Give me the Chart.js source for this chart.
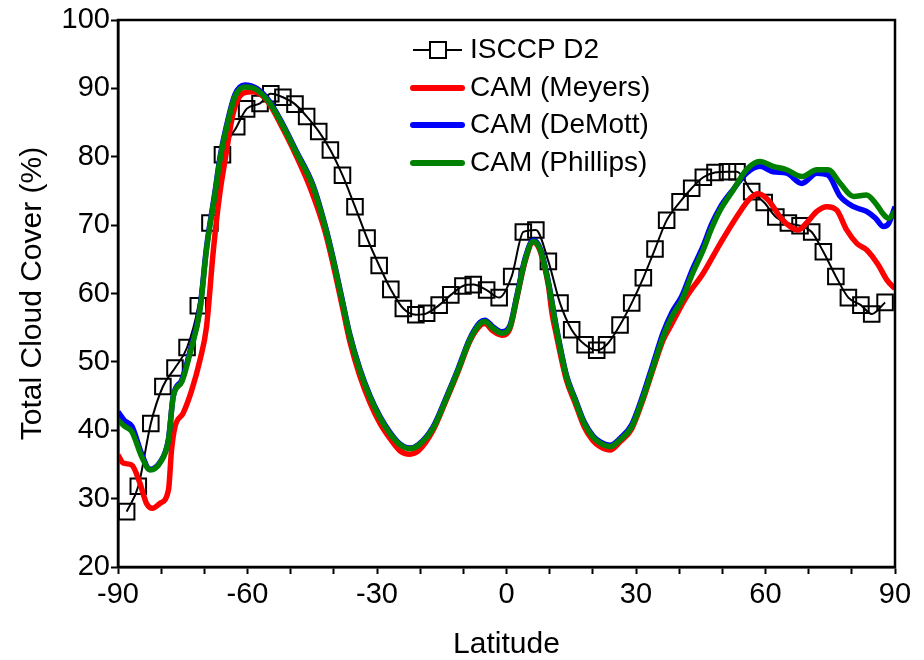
<!DOCTYPE html>
<html>
<head>
<meta charset="utf-8">
<script src="https://cdn.jsdelivr.net/npm/chart.js@4.4.1/dist/chart.umd.min.js"></script>
<style>
  body { margin: 0; background: #fff; }
  #wrap { width: 924px; height: 660px; }
</style>
</head>
<body>
<div id="wrap"><canvas id="myChart" width="924" height="660"></canvas></div>
<script>
// ISCCP D2 observations (square markers)
const isccpLat = [-88.0, -85.3, -82.4, -79.6, -76.8, -74.0, -71.4, -68.7, -65.8, -62.5, -60.2, -57.1, -54.6, -51.8, -49.0, -46.3,
  -43.5, -40.8, -38.0, -35.1, -32.3, -29.5, -26.8, -23.9, -21.0, -18.5, -15.6, -12.9, -10.1, -7.7, -4.6, -1.7,
  1.2, 3.9, 6.8, 9.7, 12.4, 15.1, 18.2, 20.9, 23.2, 26.3, 29.0, 31.7, 34.4, 37.1, 40.2, 42.9,
  45.6, 48.3, 51.2, 53.4, 56.8, 59.7, 62.4, 65.3, 68.0, 70.7, 73.4, 76.3, 79.2, 82.1, 84.6, 87.7];
const isccpCover = [28.1, 31.8, 41.0, 46.4, 49.1, 52.1, 58.2, 70.3, 80.3, 84.4, 87.0, 87.8, 89.2, 88.7, 87.7, 85.9,
  83.7, 81.0, 77.3, 72.7, 68.1, 64.1, 60.6, 57.8, 56.9, 57.1, 58.3, 59.8, 61.1, 61.3, 60.5, 59.4,
  62.5, 69.0, 69.3, 64.7, 58.6, 54.7, 52.5, 51.7, 52.5, 55.4, 58.6, 62.3, 66.5, 70.7, 73.4, 75.4,
  77.0, 77.7, 77.8, 77.8, 74.9, 73.3, 71.2, 70.3, 69.9, 69.0, 66.1, 62.5, 59.4, 58.3, 57.0, 58.7];

// CAM (Meyers)
const meyersLat = [-90, -88.8, -86.8, -84.9, -83.4, -82, -80.3, -78.3, -77.6, -76.8, -74.9, -72.9, -71, -69.5, -67.9, -66.4,
  -65.2, -63.3, -61, -58.7, -55.6, -51.7, -48.6, -45.5, -42, -40, -38, -36.3, -34, -31.6, -29.3, -27,
  -24.7, -22.4, -20.4, -17, -13.9, -11.2, -8.5, -6.1, -5, -3.1, -1.1, 0.8, 2.4, 4.3, 6.2, 7.8,
  9.7, 10.5, 11.6, 13.9, 15.9, 18, 20, 21.7, 24, 26.3, 29, 31.7, 34, 36.3, 37.9, 41.7,
  45.6, 49.5, 53.3, 56.4, 58.3, 60.6, 63.4, 65.7, 67.6, 69.5, 71.9, 74.2, 76.5, 78.8, 81.2, 83.4,
  86.1, 88.1, 90];
const meyersCover = [36.4, 35.2, 34.9, 32.2, 29.3, 28.6, 29.3, 31.3, 37.1, 40.5, 42.5, 45.9, 50.3, 55.1, 66.4, 74.7,
  79.5, 86.4, 89.3, 89.5, 88.3, 84.0, 80.0, 75.5, 69.0, 63.8, 58.0, 53.0, 48.0, 44.0, 41.0, 38.8,
  37.0, 36.5, 37.0, 40.0, 44.5, 48.6, 53.0, 55.3, 55.6, 54.5, 53.9, 54.9, 59.3, 64.7, 67.5, 66.2,
  61.2, 57.3, 53.8, 47.3, 44.0, 40.5, 38.5, 37.6, 37.1, 38.3, 40.2, 44.6, 49.0, 53.2, 55.1, 59.5,
  63.0, 67.3, 71.2, 73.9, 74.6, 73.7, 71.2, 69.8, 69.3, 70.3, 72.0, 72.7, 72.2, 69.3, 67.3, 66.4,
  64.2, 62.0, 60.7];

// CAM (DeMott)
const demottLat = [-90, -88.5, -86.8, -84.5, -82.6, -80.3, -78.3, -77.2, -75.2, -73.3, -71, -69.5, -67.5, -66.4, -64.8, -62.9,
  -60.6, -57.9, -54.8, -51.7, -48.6, -44.8, -42, -40, -38, -36.3, -34, -31.6, -29.3, -27, -24.7, -22.4,
  -20.4, -17, -13.9, -11.2, -8.5, -6.1, -5, -3.1, -1.1, 0.8, 2.4, 4.3, 6.2, 7.8, 9.7, 11.6,
  13.9, 15.9, 18, 20, 21.7, 24, 26.3, 29, 31.7, 34, 36.3, 38.3, 40.6, 43, 45.6, 47.5,
  49.5, 52.5, 55.6, 58.7, 61.8, 64.9, 68.4, 71.9, 74.5, 77.3, 80.4, 83.4, 85.5, 87.3, 88.5, 90];
const demottCover = [42.7, 41.4, 40.6, 36.5, 34.3, 35.3, 38.7, 45.0, 47.4, 51.6, 57.9, 66.7, 75.0, 79.8, 84.7, 89.1,
  90.5, 90.0, 88.0, 84.6, 80.7, 75.8, 69.9, 64.7, 58.9, 54.0, 49.0, 45.0, 42.0, 39.7, 38.0, 37.4,
  37.9, 40.5, 44.9, 49.0, 53.4, 55.8, 56.1, 55.1, 54.4, 55.3, 59.7, 65.1, 67.8, 66.6, 61.7, 54.9,
  48.0, 44.6, 41.2, 39.2, 38.3, 37.8, 38.8, 40.8, 45.3, 49.8, 54.3, 57.2, 59.6, 63.4, 67.0, 70.1,
  72.6, 75.2, 77.6, 78.6, 77.8, 77.6, 76.1, 77.6, 77.3, 74.2, 72.7, 72.0, 71.0, 69.8, 70.2, 72.7];

// CAM (Phillips)
const phillipsLat = demottLat;
const phillipsCover = [41.5, 40.6, 39.8, 36.1, 34.2, 35.2, 38.6, 44.9, 47.1, 51.3, 57.6, 66.4, 74.7, 79.5, 84.4, 88.8,
  90.2, 89.8, 87.8, 84.4, 80.5, 75.6, 69.7, 64.5, 58.7, 53.8, 48.8, 44.8, 41.8, 39.5, 37.9, 37.3,
  37.8, 40.3, 44.7, 48.8, 53.2, 55.6, 55.9, 54.9, 54.2, 55.1, 59.5, 64.9, 67.6, 66.4, 61.5, 54.7,
  47.8, 44.4, 41.0, 39.0, 38.1, 37.6, 38.6, 40.5, 44.9, 49.3, 53.7, 56.6, 59.0, 62.8, 66.4, 69.5,
  72.2, 75.1, 78.1, 79.3, 78.6, 78.1, 77.1, 78.1, 78.1, 76.1, 74.2, 74.4, 73.2, 71.6, 71.0, 72.0];

const xTicks = [-90, -60, -30, 0, 30, 60, 90];

function pts(lat, val) {
  return lat.map((v, i) => ({ x: v, y: val[i] }));
}

const FONT = 'Arial, "Liberation Sans", sans-serif';
Chart.defaults.font.family = FONT;
Chart.defaults.color = '#000';

// legend drawn inside the plot, as in the figure
const legendBox = {
  id: 'legendBox',
  afterDraw(chart) {
    const ctx = chart.ctx;
    const rows = [
      { text: 'ISCCP D2', color: '#000', w: 2, marker: true, y: 50 },
      { text: 'CAM (Meyers)', color: '#ff0000', w: 6, y: 88 },
      { text: 'CAM (DeMott)', color: '#0000ff', w: 6, y: 125 },
      { text: 'CAM (Phillips)', color: '#008000', w: 6, y: 163 }
    ];
    ctx.save();
    rows.forEach(r => {
      ctx.strokeStyle = r.color;
      ctx.lineWidth = r.w;
      ctx.lineCap = r.marker ? 'butt' : 'round';
      ctx.beginPath();
      ctx.moveTo(413, r.y);
      ctx.lineTo(462, r.y);
      ctx.stroke();
      if (r.marker) {
        ctx.fillStyle = '#fff';
        ctx.fillRect(430, r.y - 8, 16, 16);
        ctx.strokeRect(430, r.y - 8, 16, 16);
      }
      ctx.fillStyle = '#000';
      ctx.font = '28px ' + FONT;
      ctx.textBaseline = 'middle';
      ctx.fillText(r.text, 470, r.y);
    });
    ctx.restore();
  }
};

// box around the plot area
const frame = {
  id: 'frame',
  afterDatasetsDraw(chart) {
    const a = chart.chartArea;
    const ctx = chart.ctx;
    ctx.save();
    ctx.strokeStyle = '#000';
    ctx.lineWidth = 2.5;
    ctx.strokeRect(a.left, a.top, a.right - a.left, a.bottom - a.top);
    ctx.restore();
  }
};

const ctx = document.getElementById('myChart');

new Chart(ctx, {
  type: 'line',
  data: {
    datasets: [
      {
        label: 'ISCCP D2',
        data: pts(isccpLat, isccpCover),
        borderColor: '#000',
        borderWidth: 2,
        pointStyle: 'rect',
        pointRadius: 11,
        pointBorderWidth: 2,
        pointBorderColor: '#000',
        pointBackgroundColor: 'rgba(0,0,0,0)',
        cubicInterpolationMode: 'monotone',
        order: 4
      },
      {
        label: 'CAM (Meyers)',
        data: pts(meyersLat, meyersCover),
        borderColor: '#ff0000',
        borderWidth: 5.5,
        pointRadius: 0,
        cubicInterpolationMode: 'monotone',
        order: 3
      },
      {
        label: 'CAM (DeMott)',
        data: pts(demottLat, demottCover),
        borderColor: '#0000ff',
        borderWidth: 5.5,
        pointRadius: 0,
        cubicInterpolationMode: 'monotone',
        order: 2
      },
      {
        label: 'CAM (Phillips)',
        data: pts(phillipsLat, phillipsCover),
        borderColor: '#008000',
        borderWidth: 5.5,
        pointRadius: 0,
        cubicInterpolationMode: 'monotone',
        order: 1
      }
    ]
  },
  options: {
    responsive: false,
    animation: false,
    layout: { padding: { left: 0, right: 29, top: 20, bottom: 0 } },
    plugins: {
      legend: { display: false },
      tooltip: { enabled: false }
    },
    scales: {
      x: {
        type: 'linear',
        min: -90,
        max: 90,
        afterFit: (scale) => { scale.height = 93; },
        ticks: {
          stepSize: 10,
          autoSkip: false,
          maxRotation: 0,
          padding: 4,
          font: { size: 29 },
          callback: (v) => xTicks.includes(v) ? String(v) : ''
        },
        grid: { drawOnChartArea: false, drawTicks: true, tickLength: 7, tickWidth: 2, tickColor: '#000' },
        border: { color: '#000', width: 2.5 },
        title: { display: true, text: 'Latitude', font: { size: 30, lineHeight: 1 }, padding: 0 }
      },
      y: {
        min: 20,
        max: 100,
        afterFit: (scale) => { scale.width = 118; },
        ticks: {
          stepSize: 5,
          padding: 1,
          font: { size: 29 },
          callback: (v) => v % 10 === 0 ? String(v) : ''
        },
        grid: { drawOnChartArea: false, drawTicks: true, tickLength: 7, tickWidth: 2, tickColor: '#000' },
        border: { color: '#000', width: 2.5 },
        title: { display: true, text: 'Total Cloud Cover (%)', font: { size: 30, lineHeight: 1 }, padding: { top: 18, bottom: 0 } }
      }
    }
  },
  plugins: [legendBox, frame]
});
</script>
</body>
</html>
